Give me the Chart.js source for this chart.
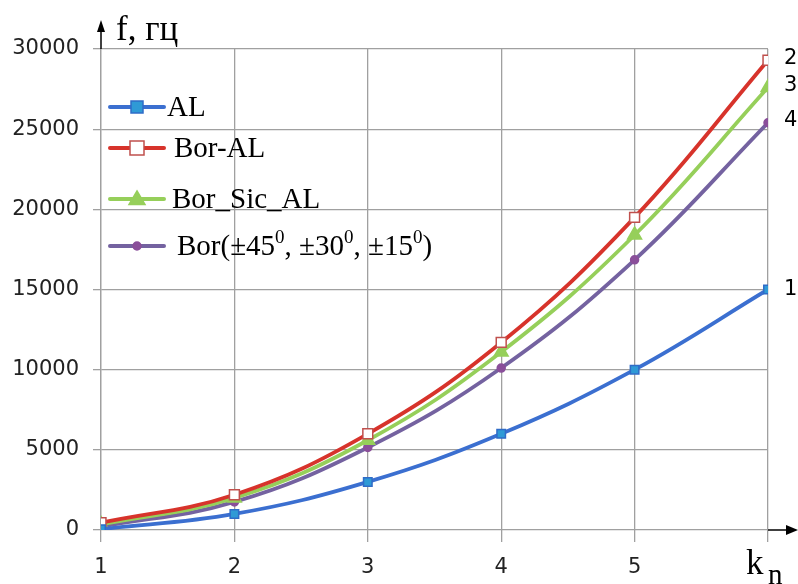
<!DOCTYPE html>
<html>
<head>
<meta charset="utf-8">
<script src="https://cdn.jsdelivr.net/npm/chart.js@4"></script>
<style>
  html, body { margin:0; padding:0; background:#fff; }
  #wrap { width:798px; height:584px; position:relative; }
</style>
</head>
<body>
<div id="wrap"><canvas id="chart"></canvas></div>
<script>
// Data
const kn = [1, 2, 3, 4, 5, 6];
const xTickLabels = ["1", "2", "3", "4", "5", ""];
const seriesNames = ["AL", "Bor-AL", "Bor_Sic_AL", "Bor"];
const endLabels = ["1", "2", "3", "4"];
const valAL     = [50, 1000, 3000, 6000, 10000, 15000];
const valBorAL  = [450, 2200, 6000, 11700, 19500, 29300];
const valBorSic = [350, 2000, 5600, 11100, 18400, 27600];
const valBor    = [200, 1750, 5150, 10100, 16850, 25400];

const TICK_FONT = "21px 'DejaVu Sans'";
const SERIF = "'Liberation Serif', 'DejaVu Serif', serif";

const pts = arr => arr.map((v, i) => ({ x: kn[i], y: v }));

const styles = [
  { line:"#3b6fd0", fill:"#2f9ad6", border:"#2f6cc8", style:"rect", r:6 },
  { line:"#d7332b", fill:"#ffffff", border:"#c0504d", style:"rect", r:7 },
  { line:"#96cf5a", fill:"#96cf5a", border:"#96cf5a", style:"triangle", r:8 },
  { line:"#7462a0", fill:"#8a4f9a", border:"#8a4f9a", style:"circle", r:4 },
];

const datasets = [valAL, valBorAL, valBorSic, valBor].map((v, i) => ({
  label: seriesNames[i],
  data: pts(v),
  borderColor: styles[i].line,
  borderWidth: 3.8,
  tension: 0.4,
  pointStyle: styles[i].style,
  pointRadius: styles[i].r,
  pointBackgroundColor: styles[i].fill,
  pointBorderColor: styles[i].border,
  pointBorderWidth: 1.5,
  fill: false
}));

// legend, arrows, axis titles, end labels
const extras = {
  id: "extras",
  afterDraw(chart) {
    const ctx = chart.ctx;
    const a = chart.chartArea;
    ctx.save();

    // axis arrows
    ctx.strokeStyle = "#000";
    ctx.fillStyle = "#000";
    ctx.lineWidth = 1.5;
    ctx.beginPath();
    ctx.moveTo(a.right, a.bottom); ctx.lineTo(790, a.bottom); ctx.stroke();
    ctx.beginPath();
    ctx.moveTo(798, a.bottom); ctx.lineTo(786, a.bottom - 5); ctx.lineTo(786, a.bottom + 5); ctx.closePath(); ctx.fill();
    ctx.beginPath();
    ctx.moveTo(a.left, a.top); ctx.lineTo(a.left, 26); ctx.stroke();
    ctx.beginPath();
    ctx.moveTo(a.left, 20); ctx.lineTo(a.left - 4, 32); ctx.lineTo(a.left + 4, 32); ctx.closePath(); ctx.fill();

    // y title
    ctx.textBaseline = "alphabetic";
    ctx.textAlign = "left";
    ctx.font = "35px " + SERIF;
    ctx.fillText("f, гц", 116, 40);

    // x title k_n
    ctx.font = "35px " + SERIF;
    ctx.fillText("k", 746, 574);
    ctx.font = "29px " + SERIF;
    ctx.fillText("n", 768, 584);

    // end labels
    ctx.font = TICK_FONT;
    ctx.textBaseline = "middle";
    chart.data.datasets.forEach((ds, i) => {
      const meta = chart.getDatasetMeta(i);
      const p = meta.data[meta.data.length - 1];
      ctx.fillText(endLabels[i], p.x + 16, p.y - (i === 0 ? 0 : 2));
    });

    // legend
    const rows = [107, 148, 199, 246];
    const textX = [167, 174, 172, 177];
    rows.forEach((y, i) => {
      const s = styles[i];
      ctx.strokeStyle = s.line;
      ctx.lineWidth = 4;
      ctx.lineCap = "round";
      ctx.beginPath(); ctx.moveTo(110, y); ctx.lineTo(164, y); ctx.stroke();
      ctx.fillStyle = s.fill; ctx.strokeStyle = s.border;
      ctx.lineWidth = 1.5;
      ctx.beginPath();
      if (s.style === "rect") ctx.rect(137 - s.r, y - s.r, 2 * s.r, 2 * s.r);
      else if (s.style === "circle") ctx.arc(137, y, s.r, 0, Math.PI * 2);
      else { ctx.moveTo(137, y - s.r); ctx.lineTo(137 + s.r, y + s.r * 0.7); ctx.lineTo(137 - s.r, y + s.r * 0.7); ctx.closePath(); }
      ctx.fill(); ctx.stroke();

      ctx.fillStyle = "#000";
      ctx.textBaseline = "middle";
      ctx.font = "29px " + SERIF;
      if (i < 3) {
        ctx.fillText(seriesNames[i], textX[i], y + 1);
      } else {
        // Bor(±45⁰, ±30⁰, ±15⁰)
        const parts = [["Bor(±45", 0], ["0", 1], [", ±30", 0], ["0", 1], [", ±15", 0], ["0", 1], [")", 0]];
        let x = textX[i];
        parts.forEach(([t, sup]) => {
          ctx.font = (sup ? "19px " : "29px ") + SERIF;
          ctx.fillText(t, x, sup ? y - 8 : y + 1);
          x += ctx.measureText(t).width;
        });
      }
    });
    ctx.restore();
  }
};

new Chart(document.getElementById("chart"), {
  type: "line",
  data: { datasets },
  plugins: [extras],
  options: {
    responsive: true,
    maintainAspectRatio: false,
    animation: false,
    layout: { padding: { left: 0, right: 30, top: 49, bottom: 0 } },
    plugins: { legend: { display: false }, tooltip: { enabled: false } },
    scales: {
      x: {
        type: "linear",
        min: 1, max: 6,
        afterFit: s => { s.height = 54; },
        afterBuildTicks: s => { s.ticks = kn.map(v => ({ value: v })); },
        grid: { color: "#a0a0a0", lineWidth: 1.3, tickLength: 12, drawTicks: true },
        border: { display: false },
        ticks: {
          color: "#222",
          font: { family: "DejaVu Sans", size: 21 },
          padding: 13,
          autoSkip: false,
          maxRotation: 0,
          callback: (v, i) => xTickLabels[i]
        }
      },
      y: {
        min: 0, max: 30000,
        afterFit: s => { s.width = 101; },
        grid: { color: "#a0a0a0", lineWidth: 1.3, tickLength: 8 },
        border: { color: "#a0a0a0", width: 1.3 },
        ticks: {
          stepSize: 5000,
          color: "#222",
          font: { family: "DejaVu Sans", size: 21 },
          padding: 14,
          callback: v => String(v)
        }
      }
    }
  }
});
</script>
</body>
</html>
